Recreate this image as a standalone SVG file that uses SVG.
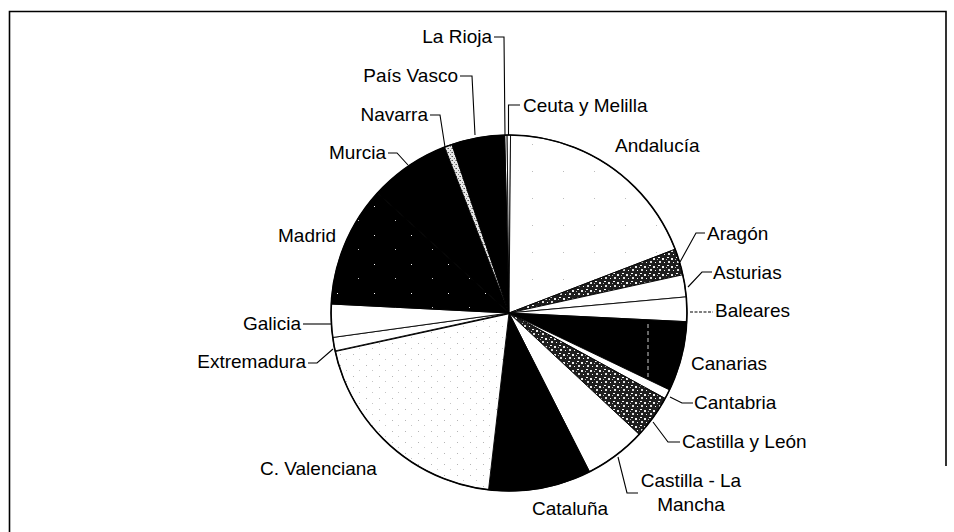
<svg xmlns="http://www.w3.org/2000/svg" width="954" height="532" viewBox="0 0 954 532">
<style>
  .lbl{font-family:"Liberation Sans",Arial,sans-serif;font-size:19px;fill:#000}
  .end{text-anchor:end}
  .mid{text-anchor:middle}
  .sl{stroke:#000;stroke-width:0.9;stroke-linejoin:round}
  .ldr{fill:none;stroke:#000;stroke-width:1.1}
  .frame{fill:none;stroke:#000;stroke-width:1.6}
</style>
<defs>
  <pattern id="mottle" width="9" height="8" patternUnits="userSpaceOnUse">
    <rect width="9" height="8" fill="#1e1e1e"/>
    <rect x="1" y="1" width="2" height="1" fill="#fff"/>
    <rect x="5" y="2" width="2" height="2" fill="#eee"/>
    <rect x="2" y="5" width="2" height="2" fill="#ddd"/>
    <rect x="7" y="6" width="1" height="1" fill="#fff"/>
    <rect x="0" y="3" width="1" height="1" fill="#bbb"/>
  </pattern>
  <pattern id="specks" width="37" height="29" patternUnits="userSpaceOnUse">
    <rect width="37" height="29" fill="#000"/>
    <rect x="4" y="3" width="1" height="1" fill="#fff"/>
    <rect x="25" y="17" width="1" height="1" fill="#ccc"/>
  </pattern>
  <pattern id="stipple" width="13" height="11" patternUnits="userSpaceOnUse">
    <rect width="13" height="11" fill="#fff"/>
    <rect x="2" y="2" width="1" height="1" fill="#b5b5b5"/>
    <rect x="8" y="7" width="1" height="1" fill="#c5c5c5"/>
  </pattern>
  <pattern id="faint" width="31" height="27" patternUnits="userSpaceOnUse">
    <rect width="31" height="27" fill="#fff"/>
    <rect x="5" y="9" width="1" height="1" fill="#bbb"/>
  </pattern>
  <pattern id="grain" width="4" height="4" patternUnits="userSpaceOnUse">
    <rect width="4" height="4" fill="#e8e8e8"/>
    <rect x="0" y="0" width="1" height="1" fill="#555"/>
    <rect x="2" y="2" width="1" height="1" fill="#777"/>
    <rect x="3" y="0" width="1" height="1" fill="#999"/>
  </pattern>
</defs>

<g id="frame">
  <polyline class="frame" points="9.5,532 9.5,11.5 946,11.5 946,466"/>
</g>

<g id="larioja">
  <path class="sl" fill="#fff" d="M509,313 L504.65,135.05 A178,178 0 0 1 507.14,135.01 Z"/>
  <text class="lbl end" x="492" y="43">La Rioja</text>
</g>
<g id="ceuta">
  <path class="sl" fill="#fff" d="M509,313 L507.14,135.01 A178,178 0 0 1 510.55,135.01 Z"/>
  <text class="lbl" x="523" y="112">Ceuta y Melilla</text>
</g>
<g id="andalucia">
  <path class="sl" fill="url(#faint)" d="M509,313 L510.55,135.01 A178,178 0 0 1 675.18,249.21 Z"/>
  <text class="lbl" x="615" y="152">Andalucía</text>
</g>
<g id="aragon">
  <path class="sl" fill="url(#mottle)" d="M509,313 L675.18,249.21 A178,178 0 0 1 682.85,274.78 Z"/>
  <text class="lbl" x="707" y="240">Aragón</text>
</g>
<g id="asturias">
  <path class="sl" fill="#fff" d="M509,313 L682.85,274.78 A178,178 0 0 1 686.27,296.87 Z"/>
  <text class="lbl" x="713" y="279">Asturias</text>
</g>
<g id="baleares">
  <path class="sl" fill="#fff" d="M509,313 L686.27,296.87 A178,178 0 0 1 686.79,321.70 Z"/>
  <text class="lbl" x="715" y="317">Baleares</text>
</g>
<g id="canarias">
  <path class="sl" fill="#000" d="M509,313 L686.79,321.70 A178,178 0 0 1 669.53,389.91 Z"/>
  <line x1="648" y1="324" x2="648" y2="384" stroke="#fff" stroke-width="0.8" stroke-dasharray="4,3"/>
  <text class="lbl" x="691" y="370">Canarias</text>
</g>
<g id="cantabria">
  <path class="sl" fill="#fff" d="M509,313 L669.53,389.91 A178,178 0 0 1 665.13,398.48 Z"/>
  <text class="lbl" x="694" y="409">Cantabria</text>
</g>
<g id="castillaleon">
  <path class="sl" fill="url(#mottle)" d="M509,313 L665.13,398.48 A178,178 0 0 1 639.18,434.40 Z"/>
  <text class="lbl" x="682" y="448">Castilla y León</text>
</g>
<g id="castillamancha">
  <path class="sl" fill="#fff" d="M509,313 L639.18,434.40 A178,178 0 0 1 589.53,471.74 Z"/>
  <text class="lbl mid" x="691" y="487">Castilla - La</text>
  <text class="lbl mid" x="691" y="511">Mancha</text>
</g>
<g id="cataluna">
  <path class="sl" fill="#000" d="M509,313 L589.53,471.74 A178,178 0 0 1 488.54,489.82 Z"/>
  <text class="lbl" x="532" y="515">Cataluña</text>
</g>
<g id="valenciana">
  <path class="sl" fill="url(#stipple)" d="M509,313 L488.54,489.82 A178,178 0 0 1 335.09,350.92 Z"/>
  <line x1="509" y1="313" x2="335.09" y2="350.92" stroke="#000" stroke-width="2.4"/>
  <text class="lbl" x="260" y="475">C. Valenciana</text>
</g>
<g id="extremadura">
  <path class="sl" fill="#fff" d="M509,313 L335.09,350.92 A178,178 0 0 1 332.69,337.46 Z"/>
  <text class="lbl end" x="306" y="368">Extremadura</text>
</g>
<g id="galicia">
  <path class="sl" fill="#fff" d="M509,313 L332.69,337.46 A178,178 0 0 1 331.23,304.00 Z"/>
  <text class="lbl end" x="301" y="330">Galicia</text>
</g>
<g id="madrid">
  <path class="sl" fill="url(#specks)" d="M509,313 L331.23,304.00 A178,178 0 0 1 377.55,192.97 Z"/>
  <text class="lbl" x="278" y="242">Madrid</text>
</g>
<g id="murcia">
  <path class="sl" fill="#000" d="M509,313 L377.55,192.97 A178,178 0 0 1 444.63,147.05 Z"/>
  <text class="lbl end" x="386" y="159">Murcia</text>
</g>
<g id="navarra">
  <path class="sl" fill="url(#grain)" d="M509,313 L444.63,147.05 A178,178 0 0 1 451.93,144.40 Z"/>
  <text class="lbl end" x="428" y="121">Navarra</text>
</g>
<g id="paisvasco">
  <path class="sl" fill="#000" d="M509,313 L451.93,144.40 A178,178 0 0 1 504.65,135.05 Z"/>
  <text class="lbl end" x="458" y="82">País Vasco</text>
</g>

<circle cx="509" cy="313" r="178" fill="none" stroke="#000" stroke-width="1.6"/>

<g id="connectors">
  <polyline class="ldr" points="494,37 504,37 505,135"/>
  <polyline class="ldr" points="520,105 508.5,105 508.5,135"/>
  <polyline class="ldr" points="460,76 472,76 475,135"/>
  <polyline class="ldr" points="430,115 440,115 445,147"/>
  <polyline class="ldr" points="388,153 397,153 408,165"/>
  <polyline class="ldr" points="705,233 696,233 680,262"/>
  <polyline class="ldr" points="712,272 702,272 688,287"/>
  <polyline class="ldr" points="690,312 713,312" stroke-dasharray="3,1.5"/>
  <polyline class="ldr" points="670,397 682,403 693,403"/>
  <polyline class="ldr" points="653,422 668,442 680,442"/>
  <polyline class="ldr" points="618,457 627,493 638,493"/>
  <polyline class="ldr" points="303,324 331,324"/>
  <polyline class="ldr" points="308,363 317,363 333,349"/>
</g>
</svg>
